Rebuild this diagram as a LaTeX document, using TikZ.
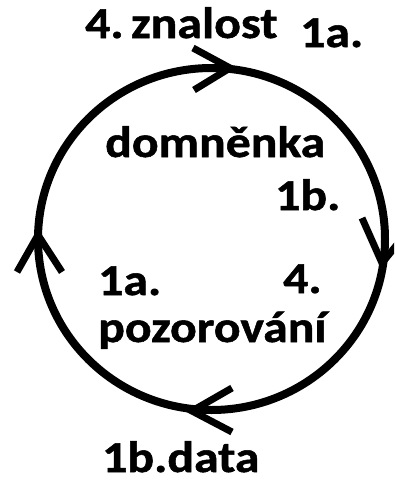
\documentclass[tikz,border=0pt]{standalone}
\usepackage{fontspec}
\setmainfont{Carlito}
\newfontfamily\lblfont[FakeStretch=1.13,FakeBold=1.2]{Carlito}
\begin{document}
\begin{tikzpicture}[x=1pt,y=-1pt,
  lbl/.style={anchor=base west, inner sep=0pt, font=\lblfont\bfseries\fontsize{44}{44}\selectfont},
  ring/.style={line width=8pt},
  chev/.style={line width=7pt, line join=miter}]
\useasboundingbox (0,0) rectangle (394,482);
\begin{scope}
\clip (0,0) rectangle (394,482);
\draw[ring] (211.5,239) ellipse [x radius=173.5pt, y radius=171pt];
\draw[chev] (193,48) -- (230,68) -- (194,90);
\draw[chev] (362,218) -- (382,263) -- (413,225);
\draw[chev] (232,388) -- (192,411) -- (232,432);
\draw[chev] (17,272) -- (38,235) -- (62,272);
\end{scope}
\node[lbl] (znalost) at (85,38) {4.\,znalost};
\node[lbl] (a1top) at (300,47) {1a.};
\node[lbl] (domnenka) at (105,157) {domněnka};
\node[lbl] (b1mid) at (275,210) {1b.};
\node[lbl] (a1low) at (98,295) {1a.};
\node[lbl] (four) at (283,293) {4.};
\node[lbl] (pozor) at (98,342) {pozorování};
\node[lbl] (data) at (102,472) {1b.data};
\end{tikzpicture}
\end{document}
